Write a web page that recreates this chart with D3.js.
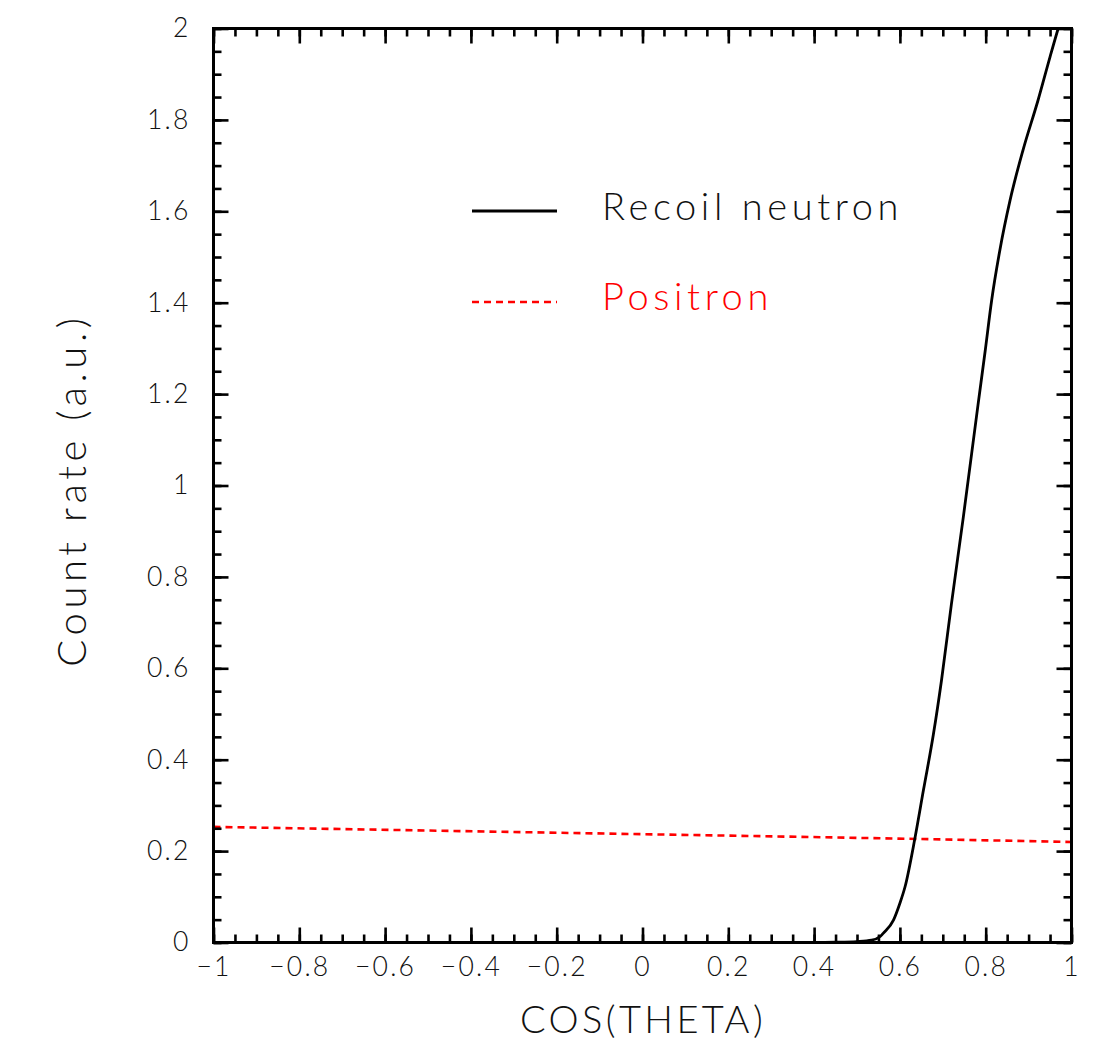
<!DOCTYPE html>
<html>
<head>
<meta charset="utf-8">
<script src="https://cdn.jsdelivr.net/npm/d3@7"></script>
<style>
  html, body { margin: 0; padding: 0; background: #fff; }
  svg text { font-family: Lato, "Open Sans", "DejaVu Sans", sans-serif; font-weight: 300; }
</style>
</head>
<body>
<svg id="chart" width="1096" height="1047"></svg>
<script>
// Recoil neutron count rate vs cos(theta)
const neutronCos  = [-1.0, -0.5, 0.0, 0.4, 0.45, 0.5, 0.534, 0.554, 0.561, 0.585, 0.600, 0.612, 0.635, 0.655, 0.678, 0.697, 0.720, 0.748, 0.782, 0.799, 0.814, 0.833, 0.857, 0.887, 0.922, 0.950, 0.969, 1.0];
const neutronRate = [0.0, 0.0, 0.0, 0.0, 0.0005, 0.002, 0.005, 0.013, 0.020, 0.049, 0.086, 0.122, 0.228, 0.334, 0.455, 0.574, 0.740, 0.932, 1.176, 1.296, 1.406, 1.515, 1.625, 1.734, 1.843, 1.938, 2.000, 2.09];

// Positron count rate vs cos(theta)
const positronCos  = [-1.0, -0.5, 0.0, 0.5, 1.0];
const positronRate = [0.253, 0.245, 0.237, 0.229, 0.220];

const xTicks = [-1, -0.8, -0.6, -0.4, -0.2, 0, 0.2, 0.4, 0.6, 0.8, 1];
const yTicks = [0, 0.2, 0.4, 0.6, 0.8, 1, 1.2, 1.4, 1.6, 1.8, 2];
const seriesNames = ["Recoil neutron", "Positron"];
const xTitle = "COS(THETA)";
const yTitle = "Count rate (a.u.)";

const svg = d3.select("#chart");
const plotL = 213.5, plotR = 1071.5, plotT = 28.5, plotB = 942.5;

const x = d3.scaleLinear().domain([-1, 1]).range([plotL, plotR]);
const y = d3.scaleLinear().domain([0, 2]).range([plotB, plotT]);

const minorX = d3.range(-1, 1.0001, 0.05).map(v => +v.toFixed(2));
const minorY = d3.range(0, 2.0001, 0.05).map(v => +v.toFixed(2));
const fmt = d => d3.format("~g")(d);

// clip for curves
svg.append("defs").append("clipPath").attr("id", "plot-clip")
  .append("rect").attr("x", plotL).attr("y", plotT).attr("width", plotR - plotL).attr("height", plotB - plotT);

// curves
const neutron = neutronCos.map((c, i) => [c, neutronRate[i]]);
const positron = positronCos.map((c, i) => [c, positronRate[i]]);
const line = d3.line().x(d => x(d[0])).y(d => y(d[1])).curve(d3.curveMonotoneX);

const curves = svg.append("g").attr("clip-path", "url(#plot-clip)");
curves.append("path").datum(positron)
  .attr("d", line).attr("fill", "none").attr("stroke", "#ff0000")
  .attr("stroke-width", 2.6).attr("stroke-dasharray", "7,5");
curves.append("path").datum(neutron)
  .attr("d", line).attr("fill", "none").attr("stroke", "#000")
  .attr("stroke-width", 2.8).attr("stroke-linejoin", "round");

// axes: inward ticks on all four sides
function styleAxis(g) {
  g.select(".domain").remove();
  g.selectAll(".tick line").attr("stroke", "#000").attr("stroke-width", 2.6);
  g.selectAll("text").attr("fill", "#111").attr("font-size", 26.5).attr("letter-spacing", 2.2);
}
function axisPair(axisFn, scale, majors, minors, labels, transform) {
  const gMin = svg.append("g").attr("transform", transform)
    .call(axisFn(scale).tickValues(minors).tickSize(-8).tickFormat(""));
  styleAxis(gMin);
  const gMaj = svg.append("g").attr("transform", transform)
    .call(axisFn(scale).tickValues(majors).tickSize(-15).tickPadding(15).tickFormat(labels ? fmt : ""));
  styleAxis(gMaj);
  return gMaj;
}
axisPair(d3.axisBottom, x, xTicks, minorX, true, `translate(0,${plotB})`);
axisPair(d3.axisTop, x, xTicks, minorX, false, `translate(0,${plotT})`);
const gl = axisPair(d3.axisLeft, y, yTicks, minorY, true, `translate(${plotL},0)`);
gl.selectAll("text").attr("x", -23);
axisPair(d3.axisRight, y, yTicks, minorY, false, `translate(${plotR},0)`);

// frame
svg.append("rect").attr("x", plotL).attr("y", plotT)
  .attr("width", plotR - plotL).attr("height", plotB - plotT)
  .attr("fill", "none").attr("stroke", "#000").attr("stroke-width", 3);

// axis titles
svg.append("text").attr("x", 643).attr("y", 1033).attr("text-anchor", "middle")
  .attr("font-size", 38).attr("letter-spacing", 3.4).attr("fill", "#111").text(xTitle);
svg.append("text").attr("transform", "translate(86,490) rotate(-90)").attr("text-anchor", "middle")
  .attr("font-size", 40).attr("letter-spacing", 4.6).attr("fill", "#111").text(yTitle);

// legend
const legend = svg.append("g");
legend.append("line").attr("x1", 472).attr("x2", 557).attr("y1", 211).attr("y2", 211)
  .attr("stroke", "#000").attr("stroke-width", 2.8);
legend.append("line").attr("x1", 472).attr("x2", 557).attr("y1", 302).attr("y2", 302)
  .attr("stroke", "#ff0000").attr("stroke-width", 2.6).attr("stroke-dasharray", "7,5");
legend.append("text").attr("x", 602).attr("y", 220).attr("font-size", 38).attr("letter-spacing", 4.6)
  .attr("fill", "#111").text(seriesNames[0]);
legend.append("text").attr("x", 602).attr("y", 310).attr("font-size", 38).attr("letter-spacing", 4.6)
  .attr("fill", "#ff0000").text(seriesNames[1]);
</script>
</body>
</html>
